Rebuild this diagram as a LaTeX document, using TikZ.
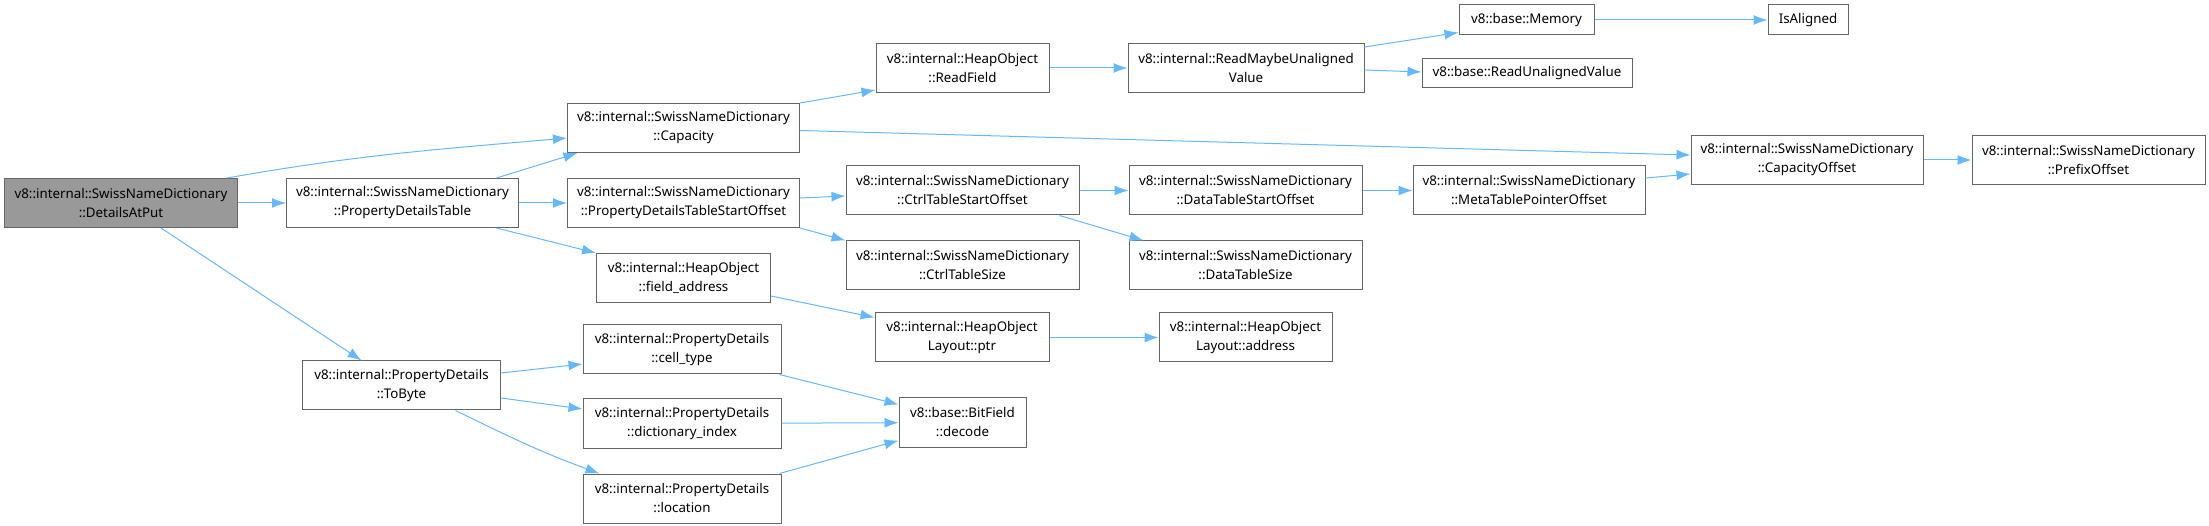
\documentclass[tikz,border=0pt]{standalone}
\usepackage{fontspec}
\setmainfont{Noto Sans}
\usetikzlibrary{positioning,arrows.meta}

\definecolor{edgeblue}{HTML}{63B8FF}
\definecolor{boxline}{HTML}{666666}
\definecolor{rootgray}{HTML}{999999}

\begin{document}
\begin{tikzpicture}[
    x=1pt, y=-1pt,
    fn/.style={rectangle, draw=boxline, line width=1pt, fill=white, align=center, inner sep=0pt,
               minimum height=49pt, font=\fontsize{13.33}{19}\selectfont},
    fnone/.style={fn, minimum height=30pt},
    rootfn/.style={fn, fill=rootgray},
    arrow/.style={-{Latex[length=14pt,width=10pt]}, line width=1pt, draw=edgeblue}
]
\useasboundingbox (0,0) rectangle (2209,526);

% --- Caller ---
\node[rootfn, minimum width=233pt] (detailsAtPut) at (121,203) {v8::internal::SwissNameDictionary\\::DetailsAtPut};

% --- Second column ---
\node[fn, minimum width=232pt, right=48pt of detailsAtPut] (pdTable) {v8::internal::SwissNameDictionary\\::PropertyDetailsTable};
\node[fn, minimum width=198pt] (toByte) at (401.5,385.5) {v8::internal::PropertyDetails\\::ToByte};

% --- Third column ---
\node[fn, minimum width=232pt, right=48pt of pdTable] (pdtso) {v8::internal::SwissNameDictionary\\::PropertyDetailsTableStartOffset};
\node[fn, minimum width=232pt, above=25pt of pdtso] (capacity) {v8::internal::SwissNameDictionary\\::Capacity};
\node[fn, minimum width=174pt, below=25pt of pdtso] (fieldAddress) {v8::internal::HeapObject\\::field\_address};
\node[fn, minimum width=198pt] (cellType) at (682,349.5) {v8::internal::PropertyDetails\\::cell\_type};
\node[fn, minimum width=198pt, below=24pt of cellType] (dictIndex) {v8::internal::PropertyDetails\\::dictionary\_index};
\node[fn, minimum width=198pt, below=25pt of dictIndex] (location) {v8::internal::PropertyDetails\\::location};

% --- Fourth column ---
\node[fn, minimum width=173pt] (readField) at (962.5,68) {v8::internal::HeapObject\\::ReadField};
\node[fn, minimum width=233pt] (ctrlStart) at (962.5,190.5) {v8::internal::SwissNameDictionary\\::CtrlTableStartOffset};
\node[fn, minimum width=233pt, below=25pt of ctrlStart] (ctrlSize) {v8::internal::SwissNameDictionary\\::CtrlTableSize};
\node[fn, minimum width=174pt] (layoutPtr) at (962,337.5) {v8::internal::HeapObject\\Layout::ptr};
\node[fn, minimum width=127pt] (decode) at (962.5,422.5) {v8::base::BitField\\::decode};

% --- Fifth column ---
\node[fn, minimum width=236pt, right=78pt of readField] (readMaybe) {v8::internal::ReadMaybeUnaligned\\Value};
\node[fn, minimum width=233pt, right=49pt of ctrlStart] (dataStart) {v8::internal::SwissNameDictionary\\::DataTableStartOffset};
\node[fn, minimum width=233pt, below=25pt of dataStart] (dataSize) {v8::internal::SwissNameDictionary\\::DataTableSize};
\node[fn, minimum width=173pt, right=109pt of layoutPtr] (layoutAddress) {v8::internal::HeapObject\\Layout::address};

% --- Sixth column ---
\node[fnone, minimum width=135pt] (memory) at (1526.5,20) {v8::base::Memory};
\node[fnone, minimum width=210pt, minimum height=29pt] (readUnaligned) at (1527,73.5) {v8::base::ReadUnalignedValue};
\node[fn, minimum width=232pt, right=50pt of dataStart] (metaTable) {v8::internal::SwissNameDictionary\\::MetaTablePointerOffset};

% --- Last columns ---
\node[fnone, minimum width=80pt, right=173pt of memory] (isAligned) {IsAligned};
\node[fn, minimum width=232pt] (capacityOffset) at (1807,160) {v8::internal::SwissNameDictionary\\::CapacityOffset};
\node[fn, minimum width=233pt, right=48pt of capacityOffset] (prefixOffset) {v8::internal::SwissNameDictionary\\::PrefixOffset};

% --- Calls ---
\draw[arrow] ([xshift=-11pt]detailsAtPut.north east) to[out=10,in=185] ([yshift=-10pt]capacity.west);
\draw[arrow] (detailsAtPut) -- (pdTable);
\draw[arrow] ([xshift=40pt]detailsAtPut.south) -- ([xshift=-40pt]toByte.north);
\draw[arrow] ([xshift=94pt]pdTable.north) -- ([xshift=-106pt]capacity.south);
\draw[arrow] (pdTable) -- (pdtso);
\draw[arrow] ([xshift=94pt]pdTable.south) -- (fieldAddress.north west);
\draw[arrow] (capacity.north east) -- ([yshift=3pt]readField.south west);
\draw[arrow] ([yshift=-2.5pt]capacity.east) -- ([yshift=5pt]capacityOffset.west);
\draw[arrow] ([yshift=5pt]pdtso.east) -- ([yshift=-5.5pt]ctrlStart.west);
\draw[arrow] (pdtso.south east) -- (ctrlSize.north west);
\draw[arrow] ([yshift=-18pt]fieldAddress.east) -- ([yshift=20pt]layoutPtr.west);
\draw[arrow] (readField) -- (readMaybe);
\draw[arrow] ([yshift=-4pt]readMaybe.north east) -- ([yshift=3pt]memory.south west);
\draw[arrow] ([yshift=-2pt]readMaybe.east) -- ([yshift=1.5pt]readUnaligned.west);
\draw[arrow] (memory) -- (isAligned);
\draw[arrow] (ctrlStart) -- (dataStart);
\draw[arrow] ([xshift=-20pt]ctrlStart.south east) -- ([xshift=15pt]dataSize.north west);
\draw[arrow] (dataStart) -- (metaTable);
\draw[arrow] ([yshift=12.5pt]metaTable.east) -- ([yshift=-14pt]capacityOffset.west);
\draw[arrow] (capacityOffset) -- (prefixOffset);
\draw[arrow] (layoutPtr) -- (layoutAddress);
\draw[arrow] ([yshift=12.5pt]toByte.east) -- ([yshift=-14.5pt]cellType.west);
\draw[arrow] ([yshift=-12.5pt]toByte.east) -- ([yshift=14.5pt]dictIndex.west);
\draw[arrow] ([xshift=54pt]toByte.south) to[out=-26,in=160] ([xshift=17pt]location.north west);
\draw[arrow] ([xshift=-2pt]cellType.south east) -- ([yshift=18pt]decode.west);
\draw[arrow] (dictIndex) -- (decode);
\draw[arrow] ([xshift=-2pt]location.north east) -- ([yshift=-18pt]decode.west);

\end{tikzpicture}
\end{document}
